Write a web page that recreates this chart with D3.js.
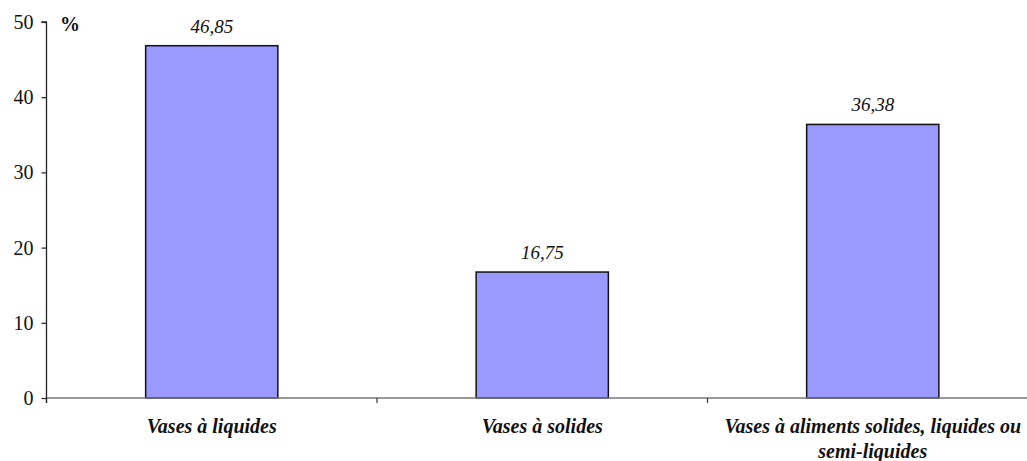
<!DOCTYPE html>
<html><head><meta charset="utf-8">
<script src="https://cdn.jsdelivr.net/npm/d3@7"></script>
<style>body{margin:0;background:#fff}svg{display:block}
text{font-family:"Liberation Serif","Times New Roman",Times,serif}</style>
</head><body>
<script>
const categories = ["Vases à liquides", "Vases à solides", "Vases à aliments solides, liquides ou semi-liquides"];
const values = [46.85, 16.75, 36.38];
const valueLabels = ["46,85", "16,75", "36,38"];
const yTicks = [0, 10, 20, 30, 40, 50];

const W = 1027, H = 461;
const svg = d3.select("body").append("svg").attr("width", W).attr("height", H);
const x0 = 46.5, x1 = 1038, yTop = 22, yBot = 398;
const x = d3.scaleBand().domain(categories).range([x0, x1]).padding(0);
const y = d3.scaleLinear().domain([0, 50]).range([yBot, yTop]);
const barW = x.bandwidth() * 0.4;

// bars
svg.selectAll("rect.bar").data(categories).join("rect")
  .attr("x", d => x(d) + (x.bandwidth() - barW) / 2)
  .attr("y", (d, i) => y(values[i]))
  .attr("width", barW)
  .attr("height", (d, i) => y(0) - y(values[i]))
  .attr("fill", "#9999FF").attr("stroke", "#111").attr("stroke-width", 1.5);

// value labels
svg.selectAll("text.val").data(categories).join("text")
  .attr("x", d => x(d) + x.bandwidth() / 2)
  .attr("y", (d, i) => y(values[i]) - 13)
  .attr("text-anchor", "middle")
  .attr("font-style", "italic").attr("font-size", 19)
  .attr("fill", "#111")
  .text((d, i) => valueLabels[i]);

// x axis
const xAxisG = svg.append("g").attr("transform", `translate(0,${yBot})`);
xAxisG.append("line").attr("x1", x0).attr("x2", x1).attr("y1", 0).attr("y2", 0)
  .attr("stroke", "#777").attr("stroke-width", 1.3);
const bounds = categories.map(c => x(c)).concat([x1]);
xAxisG.selectAll("line.t").data(bounds).join("line")
  .attr("x1", d => d).attr("x2", d => d).attr("y1", 0).attr("y2", 5)
  .attr("stroke", "#333").attr("stroke-width", 1.2);

// category labels (wrapped)
const labG = svg.append("g");
categories.forEach(c => {
  const cx = x(c) + x.bandwidth() / 2;
  const t = labG.append("text")
    .attr("x", cx).attr("y", 433)
    .attr("text-anchor", "middle")
    .attr("font-style", "italic").attr("font-weight", "bold")
    .attr("font-size", 20).attr("fill", "#111");
  const words = c.split(" ");
  let line = [];
  const maxW = x.bandwidth() - 15;
  let tsp = t.append("tspan").attr("x", cx).attr("dy", 0);
  words.forEach(w => {
    line.push(w);
    tsp.text(line.join(" "));
    if (tsp.node().getComputedTextLength() > maxW && line.length > 1) {
      line.pop(); tsp.text(line.join(" "));
      line = [w];
      tsp = t.append("tspan").attr("x", cx).attr("dy", 25).text(w);
    }
  });
});

// y axis
const yAxis = d3.axisLeft(y).tickValues(yTicks).tickSize(5).tickPadding(8).tickFormat(d3.format("d"));
const yg = svg.append("g").attr("transform", `translate(${x0},0)`).call(yAxis);
yg.attr("font-family", null).attr("font-size", null);
yg.select(".domain").attr("stroke", "#222").attr("stroke-width", 1.3).attr("d", `M-5,${yTop}H0V${yBot + 5}`);
yg.selectAll(".tick line").attr("stroke", "#222").attr("stroke-width", 1.2);
yg.selectAll(".tick text").attr("font-size", 20).attr("fill", "#111");

// unit label
svg.append("text").attr("x", 60).attr("y", 31)
  .attr("font-weight", "bold").attr("font-size", 20)
  .attr("fill", "#111").text("%");
</script>
</body></html>
